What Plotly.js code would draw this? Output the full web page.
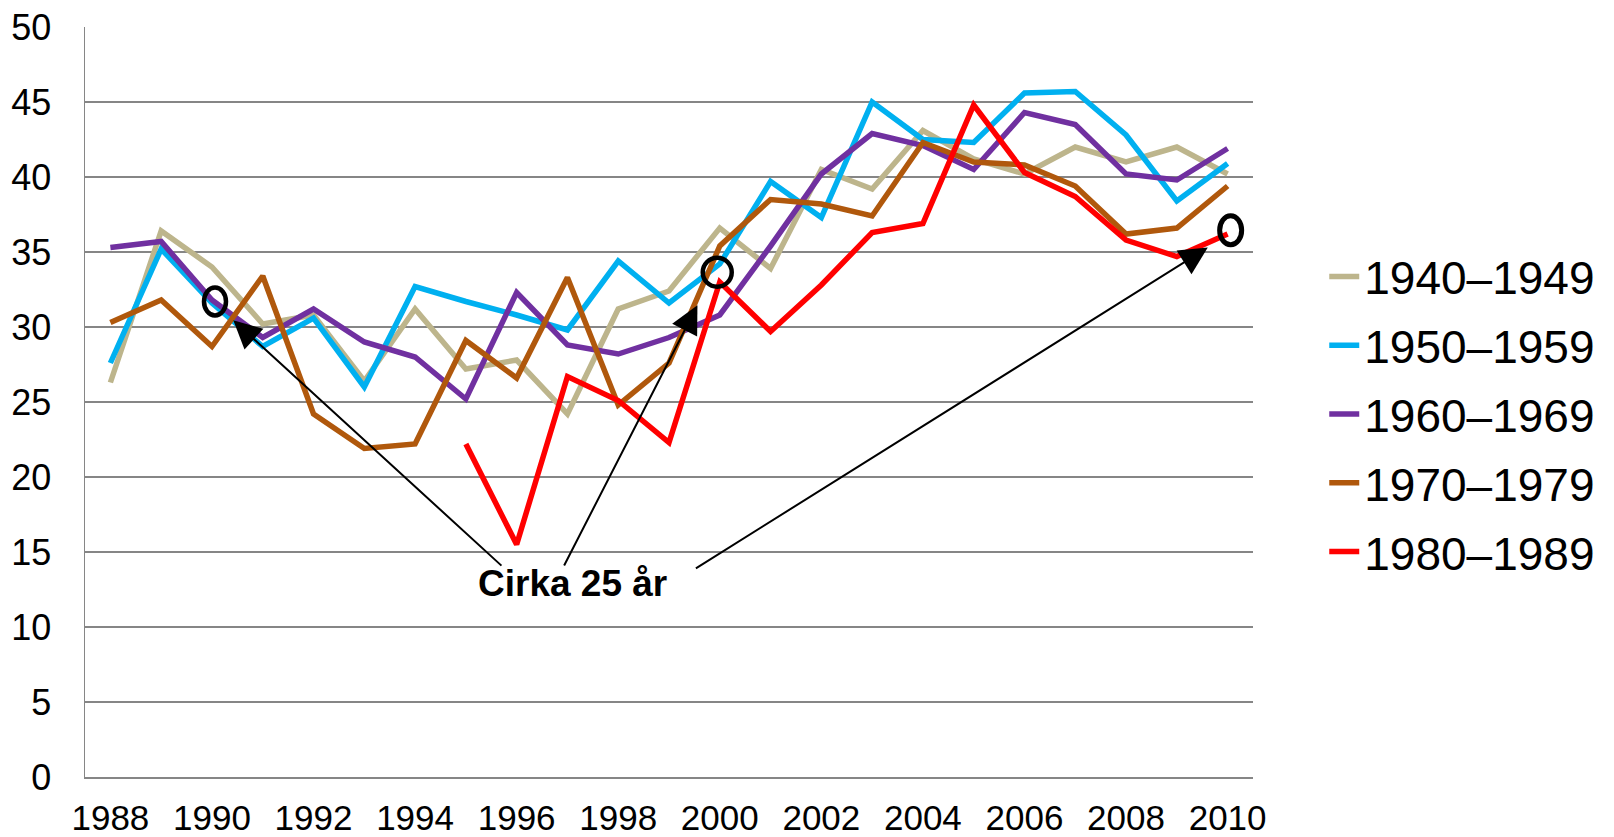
<!DOCTYPE html>
<html>
<head>
<meta charset="utf-8">
<script src="https://cdn.plot.ly/plotly-3.0.1.min.js"></script>
<style>html,body{margin:0;padding:0;background:#fff;}#chart{width:1614px;height:837px;}</style>
</head>
<body>
<div id="chart"></div>
<script>
const years = [1988,1989,1990,1991,1992,1993,1994,1995,1996,1997,1998,1999,2000,2001,2002,2003,2004,2005,2006,2007,2008,2009,2010];
const seriesNames = ["1940\u20131949","1950\u20131959","1960\u20131969","1970\u20131979","1980\u20131989"];
const s1940 = [26.3,36.4,34.0,30.2,30.8,26.4,31.2,27.2,27.8,24.2,31.2,32.4,36.6,33.9,40.5,39.2,43.1,41.2,40.2,42.0,41.0,42.0,40.2];
const s1950 = [27.6,35.2,31.6,28.7,30.6,26.0,32.7,31.7,30.8,29.8,34.4,31.6,34.2,39.7,37.3,45.0,42.5,42.3,45.6,45.7,42.8,38.4,40.9];
const s1960 = [35.3,35.7,31.8,29.3,31.2,29.0,28.0,25.2,32.3,28.8,28.2,29.3,30.8,35.4,40.2,42.9,42.1,40.5,44.3,43.5,40.2,39.8,41.9];
const s1970 = [30.3,31.8,28.7,33.4,24.2,21.9,22.2,29.1,26.6,33.3,24.8,27.6,35.4,38.5,38.2,37.4,42.3,41.0,40.8,39.4,36.2,36.6,39.4];
const s1980 = [null,null,null,null,null,null,null,22.2,15.5,26.7,25.1,22.3,33.0,29.7,32.8,36.3,36.9,44.8,40.3,38.7,35.8,34.7,36.2];
const yTicks = [0,5,10,15,20,25,30,35,40,45,50];
const xTicks = [1988,1990,1992,1994,1996,1998,2000,2002,2004,2006,2008,2010];
const noteText = "Cirka 25 år";

const colors = ["#BDB58C","#00B0F0","#7030A0","#B0580C","#FF0000"];
const allSeries = [s1940,s1950,s1960,s1970,s1980];

const traces = allSeries.map((s,i)=>({
  x: years, y: s, type:'scatter', mode:'lines', name: seriesNames[i],
  legendgroup: 'g'+i,
  line:{color:colors[i], width:5.5},
  connectgaps:false, hoverinfo:'skip'
}));

const font = "Liberation Sans, Arial, sans-serif";
const arrowCommon = {xref:'x', yref:'y', axref:'x', ayref:'y', text:'', showarrow:true,
  arrowhead:2, arrowsize:2.8, arrowwidth:2, arrowcolor:'#000', standoff:0, startstandoff:0};

const layout = {
  width:1614, height:837,
  margin:{l:85, r:361, t:27, b:60},
  paper_bgcolor:'#fff', plot_bgcolor:'#fff',
  font:{family:font, color:'#000'},
  showlegend:true,
  legend:{x:1.061, xanchor:'left', y:0.484, yanchor:'middle', font:{size:46, family:font}, tracegroupgap:6, bgcolor:'rgba(0,0,0,0)'},
  xaxis:{range:[1987.5,2010.5], tickmode:'array', tickvals:xTicks, ticktext:xTicks.map(String),
    showgrid:false, zeroline:false, showline:true, linecolor:'#868686', linewidth:1.5,
    ticks:'', tickfont:{size:35, family:font}, ticklabelstandoff:9, automargin:false, fixedrange:true},
  yaxis:{range:[0,50], tickmode:'array', tickvals:yTicks, ticktext:yTicks.map(String),
    showgrid:true, gridcolor:'#868686', gridwidth:1.5, zeroline:false, showline:true, linecolor:'#868686', linewidth:1.5,
    ticks:'', tickfont:{size:36, family:font}, ticklabelstandoff:25, automargin:false, fixedrange:true},
  shapes:[
    {type:'circle', xref:'x', yref:'y', xsizemode:'pixel', ysizemode:'pixel', xanchor:1990.06, yanchor:31.7, x0:-11, x1:11, y0:-14, y1:14, line:{color:'#000', width:4.5}},
    {type:'circle', xref:'x', yref:'y', xsizemode:'pixel', ysizemode:'pixel', xanchor:1999.95, yanchor:33.65, x0:-14.5, x1:14.5, y0:-14.5, y1:14.5, line:{color:'#000', width:4.5}},
    {type:'circle', xref:'x', yref:'y', xsizemode:'pixel', ysizemode:'pixel', xanchor:2010.06, yanchor:36.45, x0:-11, x1:11, y0:-14.5, y1:14.5, line:{color:'#000', width:5}}
  ],
  annotations:[
    Object.assign({x:1990.42, y:30.45, ax:1995.73, ay:14.0}, arrowCommon),
    Object.assign({x:1999.56, y:31.45, ax:1996.92, ay:14.0}, arrowCommon),
    Object.assign({x:2009.61, y:35.3, ax:1999.50, ay:13.85}, arrowCommon),
    {x:1997.1, y:12.9, xref:'x', yref:'y', text:'<b>'+noteText+'</b>', showarrow:false,
     font:{size:37, family:font, color:'#000'}, xanchor:'center', yanchor:'middle'}
  ]
};

Plotly.newPlot('chart', traces, layout, {displayModeBar:false, staticPlot:true});
</script>
</body>
</html>
